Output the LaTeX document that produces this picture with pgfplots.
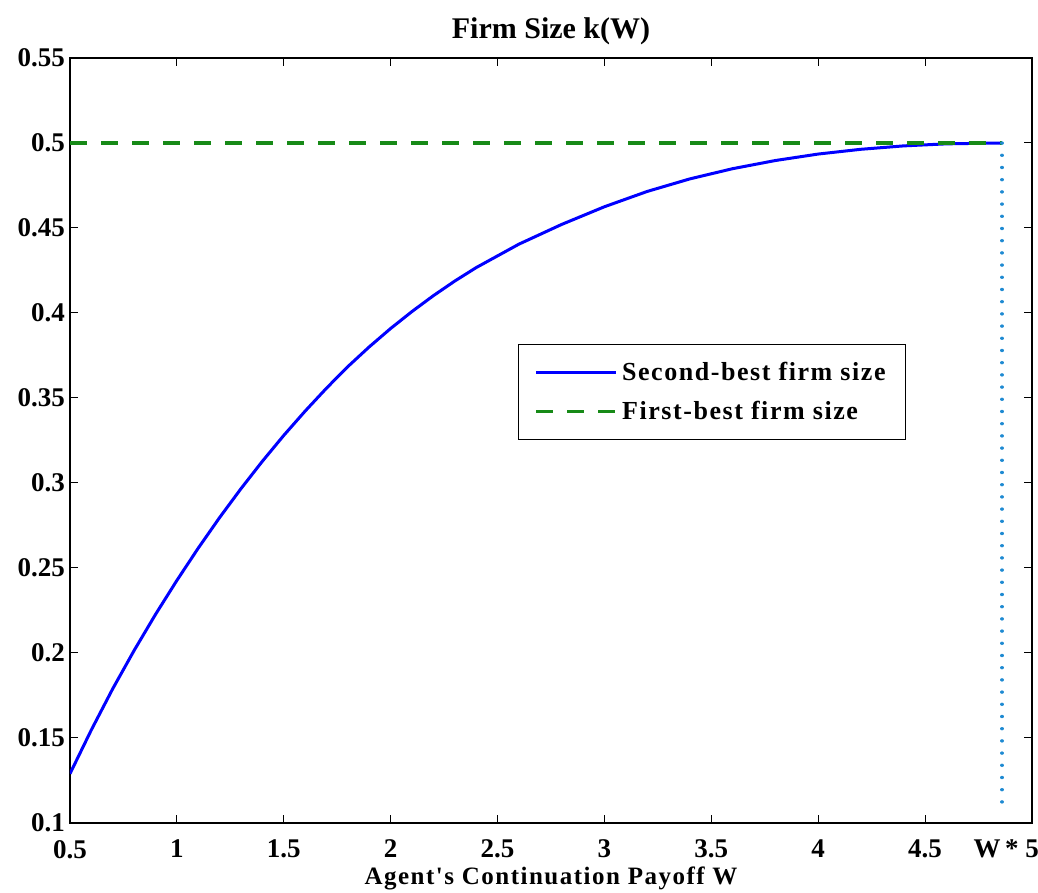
\documentclass[border=0pt]{standalone}
\usepackage{fontspec}
\setmainfont{Liberation Serif}
\newfontfamily\spaced[LetterSpace=6]{Liberation Serif}
\usepackage{pgfplots}
\pgfplotsset{compat=1.18}
\definecolor{kblue}{HTML}{0000FF}
\definecolor{kgreen}{HTML}{178A17}
\definecolor{kdot}{HTML}{1E8AD2}

\begin{document}
\begin{tikzpicture}
\begin{axis}[
  scale only axis, width=481pt, height=382.5pt,
  xmin=0.5, xmax=5, ymin=0.1, ymax=0.55,
  xtick={0.5,1,1.5,2,2.5,3,3.5,4,4.5,5},
  xticklabels={0.5,1,1.5,2,2.5,3,3.5,4,4.5,5\hspace{5pt}},
  ytick={0.1,0.15,0.2,0.25,0.3,0.35,0.4,0.45,0.5,0.55},
  yticklabels={0.1,0.15,0.2,0.25,0.3,0.35,0.4,0.45,0.5,0.55},
  extra x ticks={4.86}, extra x tick labels={W\,*},
  extra x tick style={major tick length=0pt, xticklabel style={xshift=-3pt}},
  tick align=inside, major tick length=4pt,
  axis line style={black, line width=0.6pt},
  every tick/.style={black, line width=0.5pt},
  ticklabel style={font=\bfseries\fontsize{13.5}{16}\selectfont},
  xticklabel style={yshift=-5pt},
  yticklabel style={xshift=1pt},
  title={Firm Size k(W)},
  title style={font=\bfseries\fontsize{15}{18}\selectfont, yshift=-3pt},
  xlabel={Agent's Continuation Payoff W},
  xlabel style={font=\spaced\bfseries\fontsize{12.5}{15}\selectfont, yshift=2.5pt},
  legend style={at={(0.466,0.626)}, anchor=north west, draw=black, line width=0.6pt,
    font=\spaced\bfseries\fontsize{13}{15}\selectfont, inner xsep=8pt, inner ysep=6.5pt,
    row sep=5pt, legend cell align=left},
  legend image code/.code={\draw[#1] (0pt,0pt) -- (40pt,0pt);},
]
\addplot[kblue, line width=1.5pt] coordinates {
  (0.5,0.129) (0.6,0.1548) (0.7,0.179) (0.8,0.2015) (0.9,0.2227)
  (1.0,0.2427) (1.1,0.2617) (1.2,0.2797) (1.3,0.2967) (1.4,0.3128)
  (1.5,0.328) (1.6,0.3423) (1.7,0.3558) (1.8,0.3685) (1.9,0.3801)
  (2.0,0.3909) (2.1,0.4009) (2.2,0.4102) (2.3,0.4188) (2.4,0.4267)
  (2.6,0.4405) (2.8,0.4521) (3.0,0.4625) (3.2,0.4715) (3.4,0.4789)
  (3.6,0.4849) (3.8,0.4897) (4.0,0.4935) (4.2,0.4963) (4.4,0.4983)
  (4.6,0.4995) (4.8,0.4999) (4.86,0.5)};
\addlegendentry{Second-best firm size}
\addplot[kgreen, line width=1.6pt, dash pattern=on 8.5pt off 7pt] coordinates {
  (0.5,0.5) (4.86,0.5)};
\addlegendentry{First-best firm size}
\addplot[kdot, line width=1.6pt, dash pattern=on 0.1pt off 6pt, line cap=round, forget plot] coordinates {
  (4.86,0.5) (4.86,0.109)};
\end{axis}
\pgfresetboundingbox
\path ([xshift=-35pt,yshift=-35pt]current axis.south west) rectangle ([xshift=3pt,yshift=29pt]current axis.north east);
\end{tikzpicture}
\end{document}
